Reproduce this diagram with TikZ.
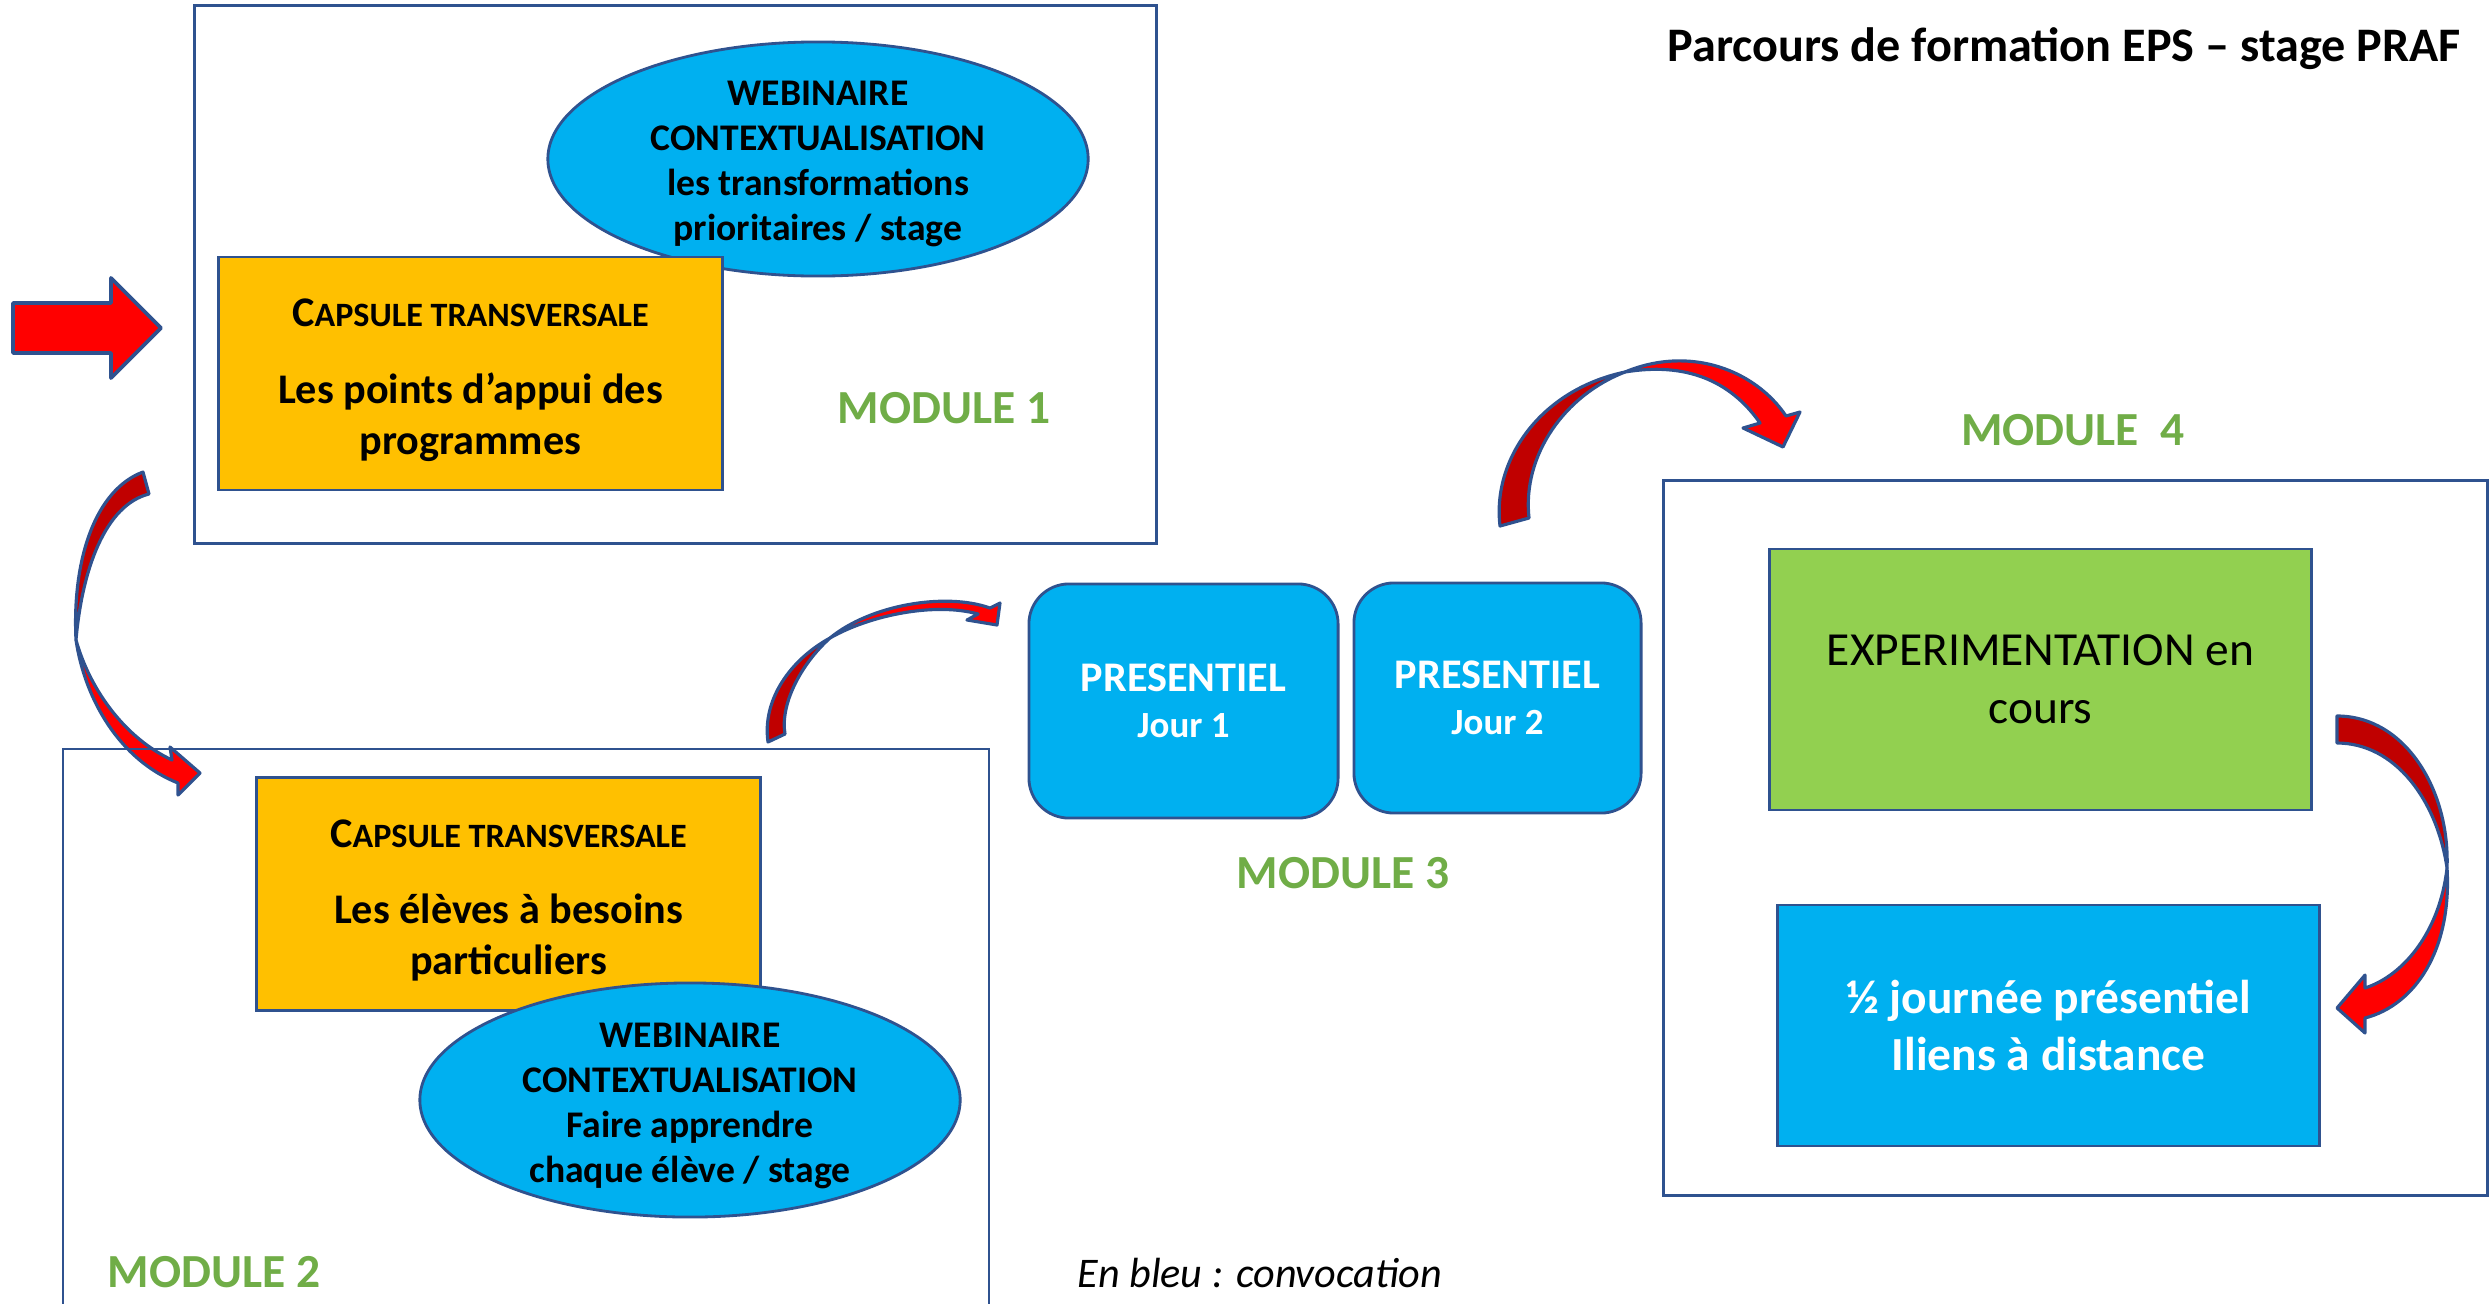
\documentclass[tikz,border=0pt]{standalone}
\usepackage{fontspec}
\setmainfont{Carlito}
\usetikzlibrary{shapes.geometric}
\definecolor{capsorange}{HTML}{FFC000}
\definecolor{convblue}{HTML}{00B0F0}
\definecolor{expgreen}{HTML}{92D050}
\definecolor{modgreen}{HTML}{70AD47}
\definecolor{edgeblue}{HTML}{2F528F}
\definecolor{backred}{HTML}{C00000}

\begin{document}
\begin{tikzpicture}[x=0.01cm,y=-0.01cm,
  frame/.style={draw=edgeblue,line width=0.8pt,inner sep=0pt},
  capsule/.style={draw=edgeblue,line width=0.8pt,fill=capsorange,minimum width=5.03cm,minimum height=2.33cm},
  captext/.style={align=center,font=\fontsize{12}{14.5}\selectfont\bfseries},
  webi/.style={ellipse,draw=edgeblue,line width=0.8pt,fill=convblue,minimum width=5.4cm,minimum height=2.34cm,inner sep=0pt},
  webitext/.style={align=center,font=\fontsize{10.7}{12.8}\selectfont\bfseries},
  jour/.style={draw=edgeblue,line width=0.8pt,fill=convblue,rounded corners=0.4cm,align=center,text=white,font=\fontsize{12}{13}\selectfont\bfseries},
  modlabel/.style={text=modgreen,font=\fontsize{13.5}{16}\selectfont\bfseries},
  front/.style={draw=edgeblue,fill=red,line width=0.9pt,line join=round},
  back/.style={draw=edgeblue,fill=backred,line width=0.9pt,line join=round}]

\useasboundingbox (0,0) rectangle (2489,1303);

\node[anchor=east,font=\fontsize{13.7}{17}\selectfont\bfseries] (title) at (2473,49) {Parcours de formation EPS -- stage PRAF};

% module 1
\node[frame,minimum width=9.61cm,minimum height=5.37cm] (mod1) at (675.5,274.5) {};
\node[webi] (web1) at (818,159) {};
\node[webitext,yshift=-0.05cm] (web1txt) at (web1) {WEBINAIRE\\CONTEXTUALISATION\\les transformations\\prioritaires / stage};
\node[capsule] (cap1) at (470.5,373.5) {};
\node[captext,yshift=-0.07cm] (cap1txt) at (cap1) {{\fontsize{12}{12}\selectfont C}{\fontsize{9.7}{12}\selectfont APSULE TRANSVERSALE}\\[7.5pt]Les points d’appui des\\programmes};
\node[modlabel] (lab1) at (944,408) {MODULE 1};
\draw[front,line width=1.1pt] (13,303) -- (111,303) -- (111,278) -- (161,328) -- (111,378) -- (111,353) -- (13,353) -- cycle;

% module 1 -> module 2
\draw[back] (143,472) .. controls (95,490) and (72,560) .. (76,640) .. controls (82,570) and (105,505) .. (149,494) -- cycle;
\draw[front] (76,640) .. controls (85,700) and (120,760) .. (178,783) -- (178,795) -- (200,773) -- (170,747) -- (172,760) .. controls (125,738) and (90,690) .. (76,640) -- cycle;

% module 2
\draw[frame] (63,1310) -- (63,749) -- (989,749) -- (989,1310);
\node[capsule] (cap2) at (508.5,894) {};
\node[captext,yshift=-0.065cm] (cap2txt) at (cap2) {{\fontsize{12}{12}\selectfont C}{\fontsize{9.7}{12}\selectfont APSULE TRANSVERSALE}\\[7pt]Les élèves à besoins\\particuliers};
\node[webi] (web2) at (690,1100) {};
\node[webitext,yshift=-0.055cm] (web2txt) at (web2) {WEBINAIRE\\CONTEXTUALISATION\\Faire apprendre\\chaque élève / stage};
\node[modlabel] (lab2) at (214,1272) {MODULE 2};

% module 2 -> module 3
\draw[back] (768,742) .. controls (762,700) and (790,660) .. (830,638) .. controls (800,665) and (780,705) .. (785,734) -- cycle;
\draw[front] (830,638) .. controls (870,605) and (945,592) .. (990,608) -- (1000,603) -- (997,625) -- (967,620) -- (978,614) .. controls (935,602) and (870,615) .. (830,638) -- cycle;

% module 3
\node[jour,minimum width=3.09cm,minimum height=2.34cm] (jour1) at (1183.5,701) {PRESENTIEL\\{\fontsize{10.5}{13}\selectfont Jour 1}};
\node[jour,minimum width=2.87cm,minimum height=2.30cm] (jour2) at (1497.5,698) {PRESENTIEL\\{\fontsize{10.5}{13}\selectfont Jour 2}};
\node[modlabel] (lab3) at (1343,873) {MODULE 3};

% module 3 -> module 4
\draw[back] (1500,526) .. controls (1492,460) and (1540,390) .. (1625,372) .. controls (1565,395) and (1522,455) .. (1529,518) -- cycle;
\draw[front] (1625,372) .. controls (1690,345) and (1755,370) .. (1786,416) -- (1800,412) -- (1783,447) -- (1743,428) -- (1760,423) .. controls (1730,380) and (1685,362) .. (1625,372) -- cycle;

% module 4
\node[modlabel] (lab4) at (2073,430) {MODULE~ 4};
\node[frame,minimum width=8.23cm,minimum height=7.14cm] (mod4) at (2075.5,838) {};
\node[draw=edgeblue,line width=0.8pt,fill=expgreen,minimum width=5.41cm,minimum height=2.61cm,align=center,font=\fontsize{13.5}{16.5}\selectfont] (exp) at (2040.5,679.5) {EXPERIMENTATION en\\cours};
\node[draw=edgeblue,line width=0.8pt,fill=convblue,minimum width=5.41cm,minimum height=2.41cm,align=center,text=white,font=\fontsize{13.5}{16.2}\selectfont\bfseries] (demi) at (2048.5,1025.5) {½ journée présentiel\\Iliens à distance};
\draw[back] (2337,716) .. controls (2405,716) and (2450,790) .. (2447,868) .. controls (2437,800) and (2395,743) .. (2337,743) -- cycle;
\draw[front] (2447,868) .. controls (2452,950) and (2415,1005) .. (2365,1018) -- (2365,1033) -- (2337,1008) -- (2365,975) -- (2365,988) .. controls (2405,975) and (2440,930) .. (2447,868) -- cycle;

\node[font=\fontsize{12}{14}\selectfont\itshape] (legend) at (1260,1273) {En bleu : convocation};
\end{tikzpicture}
\end{document}
